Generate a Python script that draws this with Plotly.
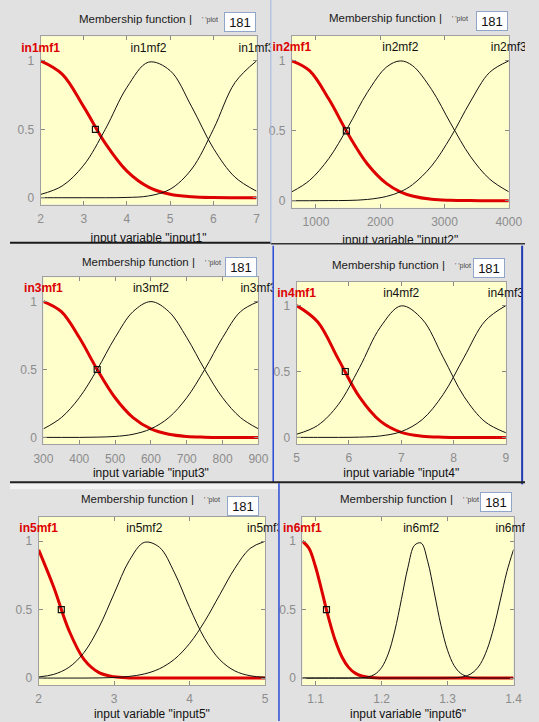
import numpy as np
import plotly.graph_objects as go

W, H = 539, 722
FONT = "Liberation Sans, Arial, sans-serif"

# ---------------- data ----------------
in1_names = ["in1mf1", "in1mf2", "in1mf3"]
in1_x = [2, 2.5, 3, 3.5, 4, 4.5, 5, 5.5, 6, 6.5, 7]
in1_mf1 = [1.0, 0.903, 0.664, 0.397, 0.194, 0.077, 0.025, 0.007, 0.001, 0.0, 0.0]
in1_mf2 = [0.024, 0.086, 0.238, 0.501, 0.807, 0.991, 0.929, 0.664, 0.362, 0.151, 0.048]
in1_mf3 = [0.0, 0.0, 0.0, 0.0, 0.002, 0.013, 0.062, 0.210, 0.499, 0.841, 1.0]
in1_sel = [3.27]
in1_ticks = [2, 3, 4, 5, 6, 7]

in2_names = ["in2mf1", "in2mf2", "in2mf3"]
in2_x = [625, 900, 1200, 1500, 1800, 2100, 2313, 2500, 2800, 3100, 3400, 3700, 4000]
in2_mf1 = [1.0, 0.930, 0.727, 0.477, 0.263, 0.122, 0.064, 0.034, 0.010, 0.003, 0.001, 0.0, 0.0]
in2_mf2 = [0.064, 0.145, 0.302, 0.528, 0.775, 0.957, 1.0, 0.967, 0.795, 0.550, 0.319, 0.156, 0.064]
in2_mf3 = [0.0, 0.0, 0.001, 0.002, 0.009, 0.031, 0.064, 0.114, 0.249, 0.457, 0.706, 0.917, 1.0]
in2_sel = [1473]
in2_ticks = [1000, 2000, 3000, 4000]

in3_names = ["in3mf1", "in3mf2", "in3mf3"]
in3_x = [300, 350, 400, 450, 500, 550, 600, 650, 700, 750, 800, 850, 900]
in3_mf1 = [1.0, 0.926, 0.735, 0.5, 0.292, 0.146, 0.063, 0.023, 0.007, 0.002, 0.0, 0.0, 0.0]
in3_mf2 = [0.063, 0.146, 0.292, 0.5, 0.735, 0.926, 1.0, 0.926, 0.735, 0.5, 0.292, 0.146, 0.063]
in3_mf3 = [0.0, 0.0, 0.0, 0.002, 0.007, 0.023, 0.063, 0.146, 0.292, 0.5, 0.735, 0.926, 1.0]
in3_sel = [450]
in3_ticks = [300, 400, 500, 600, 700, 800, 900]

in4_names = ["in4mf1", "in4mf2", "in4mf3"]
in4_x = [5, 5.4, 5.8, 6.2, 6.6, 7.0, 7.4, 7.8, 8.2, 8.6, 9]
in4_mf1 = [1.0, 0.877, 0.592, 0.307, 0.123, 0.038, 0.009, 0.002, 0.0, 0.0, 0.0]
in4_mf2 = [0.024, 0.090, 0.251, 0.528, 0.836, 0.998, 0.897, 0.608, 0.310, 0.119, 0.035]
in4_mf3 = [0.0, 0.0, 0.0, 0.002, 0.011, 0.044, 0.135, 0.325, 0.607, 0.882, 1.0]
in4_sel = [5.93]
in4_ticks = [5, 6, 7, 8, 9]

in5_names = ["in5mf1", "in5mf2", "in5mf3"]
in5_x = [2.0, 2.2, 2.4, 2.6, 2.8, 3.0, 3.2, 3.4, 3.6, 3.8, 4.0, 4.2, 4.4, 4.6, 4.8, 5.0]
in5_mf1 = [0.937, 0.664, 0.350, 0.137, 0.040, 0.009, 0.001, 0.0, 0.0, 0.0, 0.0, 0.0, 0.0, 0.0, 0.0, 0.0]
in5_mf2 = [0.008, 0.027, 0.078, 0.186, 0.372, 0.618, 0.858, 0.992, 0.956, 0.769, 0.515, 0.288, 0.134, 0.052, 0.017, 0.005]
in5_mf3 = [0.0, 0.0, 0.0, 0.0, 0.001, 0.004, 0.012, 0.030, 0.068, 0.138, 0.253, 0.415, 0.610, 0.803, 0.947, 1.0]
in5_sel = [2.3]
in5_ticks = [2, 3, 4, 5]

in6_names = ["in6mf1", "in6mf2", "in6mf3"]
in6_x = [1.08, 1.09, 1.10, 1.11, 1.12, 1.13, 1.14, 1.15, 1.16, 1.17, 1.18, 1.19, 1.20,
         1.21, 1.22, 1.23, 1.24, 1.25, 1.26, 1.27, 1.28, 1.29, 1.30, 1.31, 1.32, 1.33,
         1.34, 1.35, 1.36, 1.37, 1.38, 1.39, 1.40]
in6_mf1 = [1.0, 0.949, 0.812, 0.626, 0.435, 0.272, 0.154, 0.078, 0.036, 0.015, 0.006, 0.002, 0.001,
           0.0, 0.0, 0.0, 0.0, 0.0, 0.0, 0.0, 0.0, 0.0, 0.0, 0.0, 0.0, 0.0,
           0.0, 0.0, 0.0, 0.0, 0.0, 0.0, 0.0]
in6_mf2 = [0.0, 0.0, 0.0, 0.0, 0.0, 0.0, 0.0, 0.0, 0.001, 0.002, 0.009, 0.028, 0.076,
           0.175, 0.344, 0.573, 0.810, 0.971, 0.987, 0.851, 0.622, 0.386, 0.203, 0.091, 0.034, 0.011,
           0.003, 0.001, 0.0, 0.0, 0.0, 0.0, 0.0]
in6_mf3 = [0.0, 0.0, 0.0, 0.0, 0.0, 0.0, 0.0, 0.0, 0.0, 0.0, 0.0, 0.0, 0.0,
           0.0, 0.0, 0.0, 0.0, 0.0, 0.0, 0.0, 0.0, 0.0, 0.001, 0.002, 0.006, 0.018,
           0.047, 0.105, 0.210, 0.368, 0.570, 0.779, 0.939]
in6_sel = [1.1165]
in6_ticks = [1.1, 1.2, 1.3, 1.4]

sel_y = [0.5]
y_ticks = [0, 0.5, 1]
y_ticktext = ["0", "0.5", "1"]
plot_points = "181"

# ---------------- layout geometry (pixels) ----------------
panels = [
    dict(x=in1_x, mfs=[in1_mf1, in1_mf2, in1_mf3], names=in1_names, sel=in1_sel, ticks=in1_ticks,
         var="input1", xrange=[2, 7], ax=(32, 258, 61, 198), box=(0, 0, 273, 243),
         title=(71, 19), numbox=(241, 22.5), xlab_y=239),
    dict(x=in2_x, mfs=[in2_mf1, in2_mf2, in2_mf3], names=in2_names, sel=in2_sel, ticks=in2_ticks,
         var="input2", xrange=[625, 4000], ax=(295, 522, 61, 201), box=(274, 0, 539, 244),
         title=(333, 18), numbox=(504.5, 21), xlab_y=241),
    dict(x=in3_x, mfs=[in3_mf1, in3_mf2, in3_mf3], names=in3_names, sel=in3_sel, ticks=in3_ticks,
         var="input3", xrange=[300, 900], ax=(35, 260, 302, 438), box=(0, 246, 275, 483),
         title=(74, 262), numbox=(242, 267.5), xlab_y=475),
    dict(x=in4_x, mfs=[in4_mf1, in4_mf2, in4_mf3], names=in4_names, sel=in4_sel, ticks=in4_ticks,
         var="input4", xrange=[5, 9], ax=(300, 519, 306, 438), box=(276, 246, 536, 483),
         title=(336, 265), numbox=(501.5, 268), xlab_y=475),
    dict(x=in5_x, mfs=[in5_mf1, in5_mf2, in5_mf3], names=in5_names, sel=in5_sel, ticks=in5_ticks,
         var="input5", xrange=[2, 5], ax=(30, 267, 542, 679), box=(0, 485, 281, 722),
         title=(73, 500), numbox=(244, 507), xlab_y=716),
    dict(x=in6_x, mfs=[in6_mf1, in6_mf2, in6_mf3], names=in6_names, sel=in6_sel, ticks=in6_ticks,
         var="input6", xrange=[1.08, 1.4], ax=(306, 527, 542, 679), box=(282, 485, 539, 722),
         title=(344, 500), numbox=(509, 502.5), xlab_y=716),
]

YMIN, YMAX = -0.05, 1.18
RED = "#dd0000"
YELLOW = "#FFFFCC"
GRAY_BG = "#E1E1E1"
TICK_GRAY = "#8c8c8c"

fig = go.Figure()
layout = dict(width=W, height=H, margin=dict(l=0, r=0, t=0, b=0),
              paper_bgcolor=GRAY_BG, plot_bgcolor="rgba(0,0,0,0)", showlegend=False,
              font=dict(family=FONT, size=12, color="#111111"))
shapes = []
annotations = []


def sfx(n):
    return "" if n == 1 else str(n)


for i, p in enumerate(panels, start=1):
    j = i + 6
    xl, xr, y1, y0 = p["ax"]
    bl, bt, br, bb = p["box"]
    u = y0 - y1
    yb = y0 - YMIN * u
    yt = y1 - (YMAX - 1) * u
    xa, ya = "x" + sfx(i), "y" + sfx(i)
    xf, yf = "x" + sfx(j), "y" + sfx(j)

    layout["xaxis" + sfx(i)] = dict(
        domain=[xl / W, xr / W], range=p["xrange"], anchor=ya, tickvals=p["ticks"],
        ticks="inside", ticklen=4, tickcolor="#8a8a8a", showline=True, linecolor="#a0a0a0",
        linewidth=1, mirror="ticks", showgrid=False, zeroline=False, fixedrange=True,
        tickfont=dict(family=FONT, size=12, color=TICK_GRAY), ticklabelstandoff=3)
    layout["yaxis" + sfx(i)] = dict(
        domain=[1 - yb / H, 1 - yt / H], range=[YMIN, YMAX], anchor=xa, tickvals=y_ticks,
        ticktext=y_ticktext, ticks="inside", ticklen=4, tickcolor="#8a8a8a", showline=True,
        linecolor="#a0a0a0", linewidth=1, mirror="ticks", showgrid=False, zeroline=False,
        fixedrange=True, tickfont=dict(family=FONT, size=12, color=TICK_GRAY), ticklabelstandoff=3)

    # frame axes spanning the whole panel (same data scale) so texts clip at panel edges
    x0v, x1v = p["xrange"]
    sx = (x1v - x0v) / (xr - xl)
    layout["xaxis" + sfx(j)] = dict(domain=[bl / W, br / W],
                                    range=[x0v + (bl - xl) * sx, x0v + (br - xl) * sx],
                                    anchor=yf, visible=False, fixedrange=True)
    layout["yaxis" + sfx(j)] = dict(domain=[1 - bb / H, 1 - bt / H],
                                    range=[(y0 - bb) / u, (y0 - bt) / u],
                                    anchor=xf, visible=False, fixedrange=True)

    shapes.append(dict(type="rect", xref=xa + " domain", yref=ya + " domain",
                       x0=0, x1=1, y0=0, y1=1, fillcolor=YELLOW, line_width=0, layer="below"))

    # membership functions: mf1 selected (red, thick), others black
    for k, mf in enumerate(p["mfs"]):
        fig.add_trace(go.Scatter(
            x=p["x"], y=mf, mode="lines", xaxis=xa, yaxis=ya,
            line=dict(color=RED if k == 0 else "#111111", width=3 if k == 0 else 1,
                      shape="spline", smoothing=1.0),
            hoverinfo="skip"))
    fig.add_trace(go.Scatter(
        x=p["sel"], y=sel_y, mode="markers", xaxis=xa, yaxis=ya,
        marker=dict(symbol="square-open", size=6, color="#111111", line=dict(width=1.2)),
        hoverinfo="skip"))

    # mf labels at each curve's peak
    peak_x = [p["x"][int(np.argmax(mf))] for mf in p["mfs"]]
    texts = ["<b>%s</b>" % p["names"][0]] + p["names"][1:]
    fig.add_trace(go.Scatter(
        x=peak_x, y=[1.09] * 3, mode="text", text=texts, xaxis=xf, yaxis=yf,
        textposition="middle center", cliponaxis=True,
        textfont=dict(family=FONT, size=12, color=[RED, "#111111", "#111111"]),
        hoverinfo="skip"))
    # x-axis label
    fig.add_trace(go.Scatter(
        x=[(x0v + x1v) / 2], y=[(y0 - p["xlab_y"]) / u], mode="text",
        text=['input variable "%s"' % p["var"]], xaxis=xf, yaxis=yf,
        textposition="middle center", cliponaxis=True,
        textfont=dict(family=FONT, size=12, color="#111111"), hoverinfo="skip"))

    # title row
    tx, ty = p["title"]
    annotations.append(dict(x=tx / W, y=1 - ty / H, xref="paper", yref="paper",
                            text="Membership function |", showarrow=False,
                            xanchor="left", yanchor="middle", borderpad=0,
                            font=dict(family=FONT, size=11.5, color="#1a1a1a")))
    annotations.append(dict(x=(tx + 129) / W, y=1 - (ty + 1) / H, xref="paper", yref="paper",
                            text="' 'plot", showarrow=False, xanchor="left", yanchor="middle",
                            borderpad=0, font=dict(family=FONT, size=7, color="#444444")))
    cx, cy = p["numbox"]
    annotations.append(dict(x=cx / W, y=1 - cy / H, xref="paper", yref="paper",
                            text=plot_points, showarrow=False, xanchor="center", yanchor="middle",
                            bgcolor="white", bordercolor="#8fa6c8", borderwidth=1, borderpad=0,
                            width=30, height=18, font=dict(family=FONT, size=13, color="#111111")))


def pline(x0, y0, x1, y1, color, width):
    return dict(type="line", xref="paper", yref="paper", x0=x0 / W, x1=x1 / W,
                y0=1 - y0 / H, y1=1 - y1 / H, line=dict(color=color, width=width), layer="above")


# screenshot frame lines between the panels
shapes += [
    dict(type="rect", xref="paper", yref="paper", x0=0, x1=281 / W, y0=1 - 490 / H, y1=1 - 484 / H,
         fillcolor="#F3F3F3", line_width=0, layer="below"),
    pline(0, 243, 273, 243, "#1a1a1a", 2),
    pline(273, 244, 539, 244, "#333333", 1.5),
    pline(273, 0, 273, 244, "#9fb6e2", 1),
    pline(275.5, 246, 275.5, 483, "#2a4bd7", 1.5),
    pline(536, 246, 536, 485, "#1f3bb3", 2),
    pline(0, 483, 539, 483, "#222222", 2),
    pline(281.5, 484, 281.5, 722, "#2a4bd7", 1.5),
]

layout["shapes"] = shapes
layout["annotations"] = annotations
fig.update_layout(**layout)
fig.write_html("out.html", config={"displayModeBar": False},
               post_script="document.body.style.margin='0px';document.body.style.overflow='hidden';")
